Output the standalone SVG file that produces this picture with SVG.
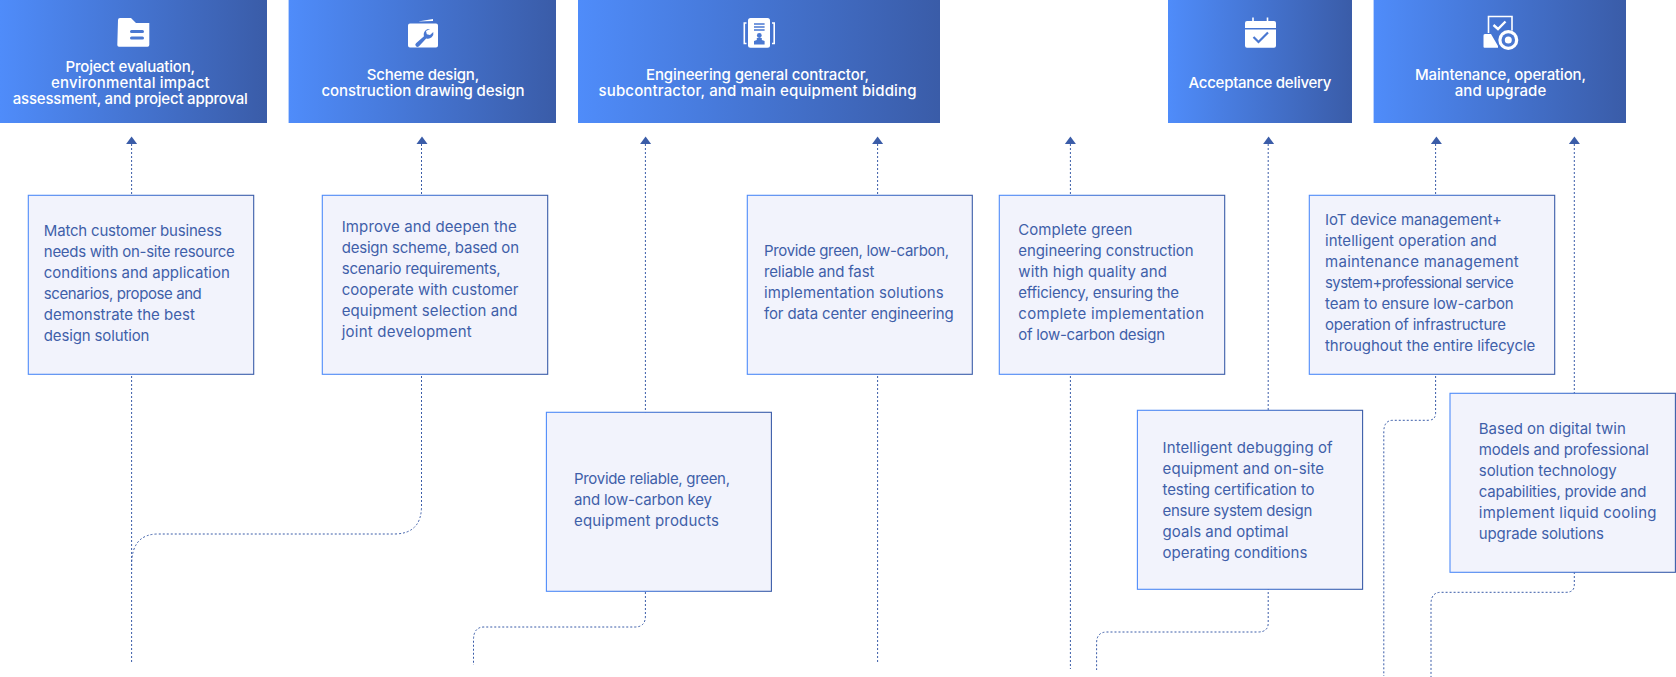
<svg xmlns="http://www.w3.org/2000/svg" width="1676" height="677" viewBox="0 0 1676 677">
<style>
text{font-family:"Inter","Liberation Sans",sans-serif}
.b{font-size:15px;fill:#3f5fa9;font-weight:400}
.h{font-size:15px;fill:#fff;font-weight:500;text-anchor:middle}
.hd{fill:url(#hg)}
.bx{fill:#f2f3fc;stroke:url(#hg);stroke-width:1.1}
.c{fill:none;stroke:#3a5ca8;stroke-width:1;stroke-dasharray:2 2}
.a{fill:#3a5ca8}
.i{fill:#fff}
.il{fill:none;stroke:#fff;stroke-width:1.6}
.ib{fill:#4a78d2}
</style>
<defs>
<linearGradient id="hg" x1="0" y1="0" x2="1" y2="0"><stop offset="0" stop-color="#4f8cfa"/><stop offset="1" stop-color="#3a5ca8"/></linearGradient>
</defs>
<g id="connectors">
<path class="c" d="M131.6 144V662"/>
<path class="c" d="M421.5 144V506Q421.5 534 394 534H158Q131.6 534 131.6 565V570"/>
<path class="c" d="M645.4 144V616Q645.4 627 635 627H484Q473.5 627 473.5 640V665"/>
<path class="c" d="M877.6 144V663"/>
<path class="c" d="M1070.4 144V669"/>
<path class="c" d="M1268.2 144V623Q1268.2 632 1258 632H1107Q1096.6 632 1096.6 643V670"/>
<path class="c" d="M1435.6 144V413Q1435.6 420.3 1428 420.3H1393Q1383.8 420.3 1383.8 432V676"/>
<path class="c" d="M1574.3 144V585Q1574.3 592.3 1566 592.3H1441Q1431 592.3 1431 604V677"/>
<path class="a" d="M131.6 136.500l5.500 7.500h-11z"/>
<path class="a" d="M422 136.500l5.500 7.500h-11z"/>
<path class="a" d="M645.6 136.500l5.500 7.500h-11z"/>
<path class="a" d="M877.6 136.500l5.500 7.500h-11z"/>
<path class="a" d="M1070.4 136.500l5.500 7.500h-11z"/>
<path class="a" d="M1268.6 136.500l5.500 7.500h-11z"/>
<path class="a" d="M1436.4 136.500l5.500 7.500h-11z"/>
<path class="a" d="M1574.4 136.500l5.500 7.500h-11z"/>
</g>
<g id="stage-1">
<rect class="hd" x="0" y="0" width="267" height="123"/>
<path class="i" d="M118 20a2 2 0 0 1 2-2h11l5 5h13.300v22a1.700 1.700 0 0 1-1.700 1.700h-28.600a1.700 1.700 0 0 1-1.700-1.700z"/>
<rect class="ib" x="130" y="30" width="14" height="3" rx="1.500"/><rect class="ib" x="130" y="36.500" width="14" height="3" rx="1.500"/>
<text class="h" x="130.300" y="71.700" textLength="129.600">Project evaluation,</text>
<text class="h" x="130.300" y="87.700" textLength="158.600">environmental impact</text>
<text class="h" x="130.300" y="103.700" textLength="235">assessment, and project approval</text>
</g>
<g id="stage-2">
<rect class="hd" x="288.600" y="0" width="267.400" height="123"/>
<path class="i" d="M418 21.500l15-2.500v2zM408 25.500a2 2 0 0 1 2-2h26a2 2 0 0 1 2 2v20a2 2 0 0 1-2 2h-26a2 2 0 0 1-2-2z"/>
<path class="ib" d="M430 29a5.500 5.500 0 0 0-6 7.200l-8 7a2 2 0 0 0 3 3l7.200-7.700a5.500 5.500 0 0 0 7.100-6.500l-3.300 3-3.200-.8-.8-3.200z"/>
<text class="h" x="423" y="80" textLength="112.500">Scheme design,</text>
<text class="h" x="423" y="96" textLength="203">construction drawing design</text>
</g>
<g id="stage-3">
<rect class="hd" x="578" y="0" width="362" height="123"/>
<rect class="i" x="748" y="18" width="22" height="29.700" rx="2.500"/>
<path class="il" d="M746.500 23h-2.200v20.500h2.200M772 23h2.200v20.500H772"/>
<path fill="none" stroke="#4a78d2" stroke-width="1.500" d="M754 24h10.600M754 27h10.600M754 30h10.600"/>
<circle class="ib" cx="759.300" cy="35.500" r="2.400"/><path class="ib" d="M756.800 38h5v2l2.800 1v3.500h-10.600V41l2.800-1z"/>
<text class="h" x="757.500" y="80" textLength="223">Engineering general contractor,</text>
<text class="h" x="757.500" y="96" textLength="318">subcontractor, and main equipment bidding</text>
</g>
<g id="stage-4">
<rect class="hd" x="1168" y="0" width="184" height="123"/>
<path class="i" d="M1245 23a2 2 0 0 1 2-2h27a2 2 0 0 1 2 2v5h-31zM1245 29.500h31v16.200a2 2 0 0 1-2 2h-27a2 2 0 0 1-2-2z"/>
<path class="il" d="M1253 17.500v5M1267.500 17.500v5"/>
<path fill="none" stroke="#4a78d2" stroke-width="2.200" d="M1253.500 37l5 5 9.500-9.500"/>
<text class="h" x="1260" y="88" textLength="143">Acceptance delivery</text>
</g>
<g id="stage-5">
<rect class="hd" x="1373.600" y="0" width="252.400" height="123"/>
<path class="il" d="M1488.500 33V16.500h23.500v14"/>
<path fill="none" stroke="#fff" stroke-width="2.400" d="M1493.500 25l4.500 4 7.500-7.500"/>
<path class="i" d="M1486 34h5l7 12v1.700h-13.500a1 1 0 0 1-1-1v-11a1.500 1.500 0 0 1 1.500-1.700z"/>
<circle class="i" cx="1508.300" cy="40" r="10"/>
<circle class="ib" cx="1508.300" cy="40" r="6.800"/>
<circle class="i" cx="1508.300" cy="40" r="3.500"/>
<text class="h" x="1500.500" y="80" textLength="171">Maintenance, operation,</text>
<text class="h" x="1500.500" y="96" textLength="91.500">and upgrade</text>
</g>
<g id="box-1">
<rect class="bx" x="28.300" y="195.300" width="225.400" height="179"/>
<text class="b" x="43.800" y="235.700" textLength="178">Match customer business</text>
<text class="b" x="43.800" y="256.700" textLength="191">needs with on-site resource</text>
<text class="b" x="43.800" y="277.700" textLength="186">conditions and application</text>
<text class="b" x="43.800" y="298.700" textLength="158">scenarios, propose and</text>
<text class="b" x="43.800" y="319.700" textLength="151">demonstrate the best</text>
<text class="b" x="43.800" y="340.700" textLength="105.600">design solution</text>
</g>
<g id="box-2">
<rect class="bx" x="322.300" y="195.300" width="225.400" height="179"/>
<text class="b" x="341.700" y="231.700" textLength="175">Improve and deepen the</text>
<text class="b" x="341.700" y="252.700" textLength="177.300">design scheme, based on</text>
<text class="b" x="341.700" y="273.700" textLength="159">scenario requirements,</text>
<text class="b" x="341.700" y="294.700" textLength="176.700">cooperate with customer</text>
<text class="b" x="341.700" y="315.700" textLength="175.700">equipment selection and</text>
<text class="b" x="341.700" y="336.700" textLength="130">joint development</text>
</g>
<g id="box-3">
<rect class="bx" x="546.400" y="412.300" width="225" height="179"/>
<text class="b" x="574" y="484" textLength="156">Provide reliable, green,</text>
<text class="b" x="574" y="505" textLength="138">and low-carbon key</text>
<text class="b" x="574" y="526" textLength="145">equipment products</text>
</g>
<g id="box-4">
<rect class="bx" x="747.300" y="195.300" width="225" height="179"/>
<text class="b" x="764" y="256" textLength="185">Provide green, low-carbon,</text>
<text class="b" x="764" y="277" textLength="110.300">reliable and fast</text>
<text class="b" x="764" y="298" textLength="179.700">implementation solutions</text>
<text class="b" x="764" y="319" textLength="189.700">for data center engineering</text>
</g>
<g id="box-5">
<rect class="bx" x="999.300" y="195.300" width="225.400" height="179"/>
<text class="b" x="1018.300" y="235" textLength="114">Complete green</text>
<text class="b" x="1018.300" y="256" textLength="175.300">engineering construction</text>
<text class="b" x="1018.300" y="277" textLength="148.700">with high quality and</text>
<text class="b" x="1018.300" y="298" textLength="160.700">efficiency, ensuring the</text>
<text class="b" x="1018.300" y="319" textLength="185.700">complete implementation</text>
<text class="b" x="1018.300" y="340" textLength="146.700">of low-carbon design</text>
</g>
<g id="box-6">
<rect class="bx" x="1137.400" y="410.300" width="225.200" height="179"/>
<text class="b" x="1162.600" y="453.300" textLength="170">Intelligent debugging of</text>
<text class="b" x="1162.600" y="474.300" textLength="161.500">equipment and on-site</text>
<text class="b" x="1162.600" y="495.300" textLength="152">testing certification to</text>
<text class="b" x="1162.600" y="516.300" textLength="149.700">ensure system design</text>
<text class="b" x="1162.600" y="537.300" textLength="125.700">goals and optimal</text>
<text class="b" x="1162.600" y="558.300" textLength="144.700">operating conditions</text>
</g>
<g id="box-7">
<rect class="bx" x="1309.300" y="195.300" width="245.400" height="179"/>
<text class="b" x="1325" y="225" textLength="177">IoT device management+</text>
<text class="b" x="1325" y="246" textLength="171.700">intelligent operation and</text>
<text class="b" x="1325" y="267" textLength="193.700">maintenance management</text>
<text class="b" x="1325" y="288" textLength="188.700">system+professional service</text>
<text class="b" x="1325" y="309" textLength="188.700">team to ensure low-carbon</text>
<text class="b" x="1325" y="330" textLength="181">operation of infrastructure</text>
<text class="b" x="1325" y="351" textLength="210.300">throughout the entire lifecycle</text>
</g>
<g id="box-8">
<rect class="bx" x="1450" y="393.300" width="225.400" height="179"/>
<text class="b" x="1478.800" y="434" textLength="147">Based on digital twin</text>
<text class="b" x="1478.800" y="455" textLength="170">models and professional</text>
<text class="b" x="1478.800" y="476" textLength="138">solution technology</text>
<text class="b" x="1478.800" y="497" textLength="167.600">capabilities, provide and</text>
<text class="b" x="1478.800" y="518" textLength="177.700">implement liquid cooling</text>
<text class="b" x="1478.800" y="539" textLength="125">upgrade solutions</text>
</g>
</svg>
